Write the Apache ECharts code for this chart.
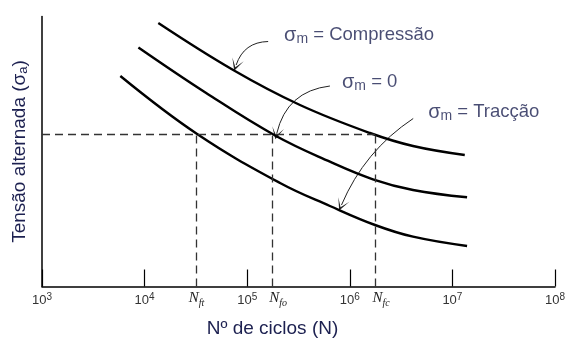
<!DOCTYPE html>
<html>
<head>
    <meta charset="utf-8" />
    <title>Curvas S-N</title>
    <script src="https://cdn.jsdelivr.net/npm/echarts@6/dist/echarts.min.js"></script>
</head>
<body style="margin:0;background:#fff">
    <div id="main" style="width: 569px;height:345px;"></div>
    <script type="text/javascript">
        // curvas S-N: [N, tensão (unid. arbitrárias)]
        let compressao = [[1.36e4, 263.5], [7.3e4, 216.5], [3.27e5, 181.5], [1.57e6, 153.5], [4.13e6, 140.5], [1.32e7, 131.5]];
        let zero = [[8.7e3, 239], [3.98e4, 193.5], [1.87e5, 151], [6.4e5, 124.8], [1.68e6, 107.2], [4.13e6, 96.5], [1.39e7, 89.2]];
        let traccao = [[5.8e3, 210.5], [3.25e4, 152.5], [2.09e5, 103.5], [6.4e5, 80.5], [1.76e6, 61.5], [4.13e6, 49.8], [1.39e7, 40.5]];

        // nível de tensão tracejado e vidas correspondentes
        let nivel = 152;
        let vidas = [3.2e4, 1.75e5, 1.76e6];
        let vidasNomes = ['ft', 'fo', 'fc'];

        // anotações: posição do texto e setas (início -> ponta)
        let notasTexto = ['Compressão', '0', 'Tracção'];
        let notasPos = [[2.29e5, 251.5], [8.4e5, 204.5], [5.8e6, 174.5]];
        let setas = [
            [[1.6e5, 245], [7.8e4, 221.5]],
            [[6.4e5, 200.5], [1.94e5, 153]],
            [[4.15e6, 168], [8.3e5, 81.5]]
        ];
        let setasCurva = [-0.35, -0.35, -0.15];

        let txtCor = '#1c2050';
        let fonte = '"Liberation Sans", Arial, sans-serif';
        let serifa = '"Liberation Serif", "DejaVu Serif", serif';

        let myChart = echarts.init(document.getElementById('main'));

        let curva = function (nome, dados) {
            return {
                name: nome, type: 'line', data: dados, smooth: 0.4,
                showSymbol: false, silent: true,
                lineStyle: { color: '#000', width: 2.4 }
            };
        };

        let tracejado = { color: '#333', width: 1.3, type: [8, 5] };
        let linhasTracejadas = [[{ coord: [1000, nivel] }, { coord: [vidas[2], nivel] }]];
        vidas.forEach((v, i) => {
            linhasTracejadas.push([
                {
                    coord: [v, 0],
                    label: {
                        show: true, position: 'start', distance: 3, offset: [i === 0 ? 0 : 6, 0],
                        formatter: '{n|N}{s|' + vidasNomes[i] + '}',
                        rich: {
                            n: { fontFamily: serifa, fontStyle: 'italic', fontSize: 15, color: '#222', lineHeight: 18 },
                            s: { fontFamily: serifa, fontStyle: 'italic', fontSize: 10, color: '#222', lineHeight: 9, padding: [9, 0, 0, 0] }
                        }
                    }
                },
                { coord: [v, nivel] }
            ]);
        });

        let zeroSerie = curva('zero', zero);
        zeroSerie.markLine = {
            silent: true, symbol: 'none', animation: false,
            lineStyle: tracejado,
            label: { show: false },
            data: linhasTracejadas
        };

        let option = {
            animation: false,
            backgroundColor: '#fff',
            grid: { left: 42, right: 14, top: 16.5, bottom: 58.5 },
            xAxis: {
                type: 'log', logBase: 10, min: 1000, max: 1e8,
                name: 'Nº de ciclos (N)', nameLocation: 'middle', nameGap: 33,
                nameTextStyle: { color: txtCor, fontSize: 19, fontFamily: fonte, padding: [0, 52, 0, 0] },
                axisLine: { lineStyle: { color: '#000', width: 1.5 } },
                axisTick: { inside: true, length: 17, lineStyle: { color: '#000', width: 1.2 } },
                minorTick: { show: false },
                splitLine: { show: false },
                axisLabel: {
                    color: '#333', fontFamily: fonte, margin: 6,
                    showMaxLabel: true, showMinLabel: true,
                    formatter: function (v) {
                        let e = Math.round(Math.log10(v));
                        return '{b|10}{p|' + e + '}';
                    },
                    rich: {
                        b: { fontSize: 13, color: '#333', fontFamily: fonte, lineHeight: 16 },
                        p: { fontSize: 10, color: '#333', fontFamily: fonte, padding: [0, 0, 6, 0] }
                    }
                }
            },
            yAxis: {
                type: 'value', min: 0, max: 270,
                name: 'Tensão alternada (σ{s|a})', nameLocation: 'middle', nameGap: 12,
                nameTextStyle: {
                    color: txtCor, fontSize: 19, fontFamily: fonte,
                    rich: { s: { fontSize: 13, color: txtCor, fontFamily: fonte, padding: [7, 0, 0, 0] } }
                },
                axisLine: { show: true, lineStyle: { color: '#000', width: 1.5 } },
                axisTick: { show: false },
                axisLabel: { show: false },
                splitLine: { show: false }
            },
            series: [
                curva('compressao', compressao),
                zeroSerie,
                curva('traccao', traccao),
                {
                    type: 'lines', coordinateSystem: 'cartesian2d', silent: true,
                    symbol: ['none', 'path://M0,10 L5,0 L10,10 L5,3 Z'], symbolSize: [9, 12],
                    lineStyle: { color: '#222', width: 1, opacity: 1 },
                    data: setas.map((s, i) => ({ coords: s, lineStyle: { curveness: setasCurva[i] } }))
                },
                {
                    type: 'scatter', silent: true, symbolSize: 0,
                    data: notasPos.map((p, i) => ({ value: p, nome: notasTexto[i] })),
                    label: {
                        show: true, position: 'right', distance: 0,
                        formatter: function (p) {
                            return '{g|σ}{m|m}{t| = ' + p.data.nome + '}';
                        },
                        rich: {
                            g: { fontSize: 20, color: txtCor, fontFamily: fonte, lineHeight: 22 },
                            m: { fontSize: 14, color: txtCor, fontFamily: fonte, padding: [8, 0, 0, 0] },
                            t: { fontSize: 18.5, color: txtCor, fontFamily: fonte, lineHeight: 22 }
                        }
                    }
                }
            ]
        };

        myChart.setOption(option);
    </script>
</body>
</html>
